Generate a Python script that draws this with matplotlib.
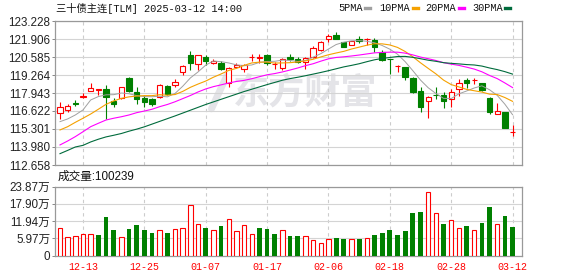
import numpy as np
import matplotlib.pyplot as plt
from matplotlib.patches import Rectangle
from matplotlib.lines import Line2D

plt.rcParams['font.family'] = ['Liberation Sans', 'Noto Sans CJK SC']

# trading days shown (12-10 .. 03-12)
dates = ['12-10', '12-11', '12-12', '12-13', '12-16', '12-17', '12-18', '12-19', '12-20', '12-23',
         '12-24', '12-25', '12-26', '12-27', '12-30', '12-31', '01-02', '01-03', '01-06', '01-07',
         '01-08', '01-09', '01-10', '01-13', '01-14', '01-15', '01-16', '01-17', '01-20', '01-21',
         '01-22', '01-23', '01-24', '01-27', '02-05', '02-06', '02-07', '02-10', '02-11', '02-12',
         '02-13', '02-14', '02-17', '02-18', '02-19', '02-20', '02-21', '02-24', '02-25', '02-26',
         '02-27', '02-28', '03-03', '03-04', '03-05', '03-06', '03-07', '03-10', '03-11', '03-12']

opens = [116.45, 116.70, 117.23, 117.65, 118.07, 118.19, 118.24, 117.36, 117.55, 119.02,
         117.99, 117.55, 117.50, 117.67, 118.46, 118.53, 119.46, 120.73, 120.05, 120.61,
         120.12, 120.17, 118.65, 119.83, 119.71, 120.55, 120.49, 120.73, 120.06, 119.80,
         120.59, 120.42, 120.24, 120.61, 121.10, 121.88, 122.20, 121.66, 121.47, 121.88,
         121.89, 121.83, 120.97, 120.46, 119.91, 119.87, 119.07, 118.09, 117.36, 117.83,
         117.80, 117.50, 118.26, 118.90, 118.89, 118.65, 117.60, 116.38, 116.57, 115.05]
highs = [117.26, 117.16, 117.43, 117.92, 118.66, 118.21, 118.53, 117.60, 118.38, 119.14,
         118.41, 117.80, 117.55, 118.58, 118.53, 118.94, 120.00, 121.03, 120.73, 120.73,
         120.46, 120.29, 119.83, 120.17, 120.05, 120.78, 120.83, 120.78, 120.24, 120.54,
         120.78, 120.56, 120.56, 121.36, 121.76, 122.26, 122.43, 121.70, 121.78, 122.13,
         121.96, 121.96, 121.12, 120.46, 120.00, 119.87, 119.14, 118.41, 117.75, 118.41,
         118.04, 118.26, 118.97, 119.04, 119.07, 118.65, 117.65, 117.19, 116.57, 115.60]
lows = [116.03, 116.53, 117.02, 117.55, 118.07, 117.80, 116.03, 116.94, 117.53, 118.04,
        117.11, 116.94, 117.01, 117.55, 117.80, 118.36, 119.26, 119.63, 119.63, 120.00,
        120.05, 119.66, 118.41, 119.76, 119.46, 120.31, 120.17, 120.00, 119.71, 119.66,
        120.31, 120.12, 119.71, 120.54, 121.03, 121.67, 121.88, 121.30, 121.45, 121.60,
        121.47, 120.98, 120.32, 119.32, 119.51, 118.90, 117.97, 116.57, 116.13, 117.50,
        116.87, 116.92, 117.70, 118.31, 118.60, 118.09, 116.38, 116.38, 115.40, 114.81]
closes = [116.94, 117.01, 117.11, 117.75, 118.33, 118.21, 117.65, 117.16, 118.36, 118.09,
          117.50, 117.30, 117.11, 118.53, 117.85, 118.77, 119.95, 120.17, 120.73, 120.31,
          120.29, 119.68, 119.76, 120.00, 120.00, 120.56, 120.61, 120.12, 120.07, 120.44,
          120.42, 120.24, 120.49, 121.27, 121.71, 122.13, 121.91, 121.35, 121.76, 121.78,
          121.90, 121.34, 120.37, 120.42, 119.92, 119.14, 118.04, 116.94, 117.63, 117.78,
          117.36, 118.00, 118.65, 118.65, 118.90, 118.16, 116.53, 116.62, 115.40, 115.06]

ma5 = [115.84, 116.04, 116.33, 116.70, 117.43, 117.68, 117.81, 117.82, 117.94, 117.89,
       117.75, 117.68, 117.67, 117.71, 117.66, 117.91, 118.44, 119.05, 119.49, 119.99,
       120.29, 120.24, 120.15, 120.01, 119.95, 120.00, 120.19, 120.26, 120.27, 120.36,
       120.33, 120.26, 120.33, 120.57, 120.83, 121.17, 121.50, 121.67, 121.77, 121.79,
       121.74, 121.63, 121.43, 121.16, 120.79, 120.24, 119.58, 118.89, 118.33, 117.91,
       117.55, 117.54, 117.88, 118.09, 118.31, 118.47, 118.18, 117.77, 117.12, 116.35]
ma10 = [115.23, 115.47, 115.79, 116.09, 116.40, 116.75, 117.11, 117.36, 117.55, 117.66,
        117.72, 117.75, 117.75, 117.82, 117.78, 117.83, 118.06, 118.36, 118.60, 118.82,
        119.10, 119.34, 119.60, 119.75, 119.97, 120.15, 120.21, 120.21, 120.14, 120.15,
        120.17, 120.22, 120.30, 120.42, 120.59, 120.75, 120.88, 121.00, 121.17, 121.31,
        121.45, 121.56, 121.55, 121.47, 121.29, 120.99, 120.60, 120.16, 119.75, 119.35,
        118.89, 118.56, 118.39, 118.21, 118.11, 118.01, 117.86, 117.83, 117.61, 117.33]
ma20 = [114.13, 114.42, 114.74, 115.10, 115.47, 115.72, 115.96, 116.09, 116.20, 116.33,
        116.50, 116.62, 116.75, 116.94, 117.10, 117.30, 117.53, 117.76, 118.02, 118.24,
        118.41, 118.54, 118.68, 118.79, 118.87, 118.99, 119.14, 119.28, 119.37, 119.49,
        119.63, 119.78, 119.95, 120.09, 120.28, 120.45, 120.55, 120.60, 120.66, 120.73,
        120.81, 120.89, 120.92, 120.94, 120.94, 120.87, 120.74, 120.58, 120.46, 120.33,
        120.17, 120.06, 119.97, 119.84, 119.70, 119.50, 119.23, 119.00, 118.68, 118.34]
ma30 = [113.49, 113.73, 113.98, 114.10, 114.35, 114.55, 114.72, 114.84, 114.97, 115.14,
        115.29, 115.46, 115.66, 115.86, 116.06, 116.26, 116.47, 116.68, 116.89, 117.10,
        117.29, 117.48, 117.67, 117.86, 118.05, 118.22, 118.39, 118.56, 118.72, 118.88,
        119.00, 119.10, 119.21, 119.33, 119.45, 119.58, 119.72, 119.86, 119.97, 120.09,
        120.24, 120.38, 120.48, 120.55, 120.62, 120.63, 120.56, 120.46, 120.35, 120.27,
        120.17, 120.12, 120.08, 120.03, 120.00, 119.92, 119.78, 119.66, 119.51, 119.33]

# volume in 万 (10k lots), 1 = red bar, 0 = green bar
vol = [9.64, 6.57, 6.91, 7.35, 7.35, 7.01, 13.17, 8.72, 6.57, 9.06,
       10.43, 8.72, 7.70, 8.96, 7.70, 9.30, 9.64, 17.61, 10.77, 9.41,
       8.96, 10.09, 12.72, 8.62, 10.67, 7.59, 9.64, 9.06, 7.35, 8.96,
       6.67, 6.67, 6.67, 5.30, 4.17, 5.64, 5.99, 5.64, 5.64, 5.64,
       5.99, 7.01, 7.80, 8.72, 7.01, 8.38, 14.64, 15.22, 22.06, 14.77,
       10.77, 12.14, 9.64, 10.09, 8.96, 11.22, 16.93, 11.01, 13.51, 10.02]
vol_up = [1, 1, 1, 1, 1, 0, 0, 0, 1, 0, 0, 0, 0, 1, 0, 1, 1, 1, 1, 0,
          1, 0, 1, 1, 1, 1, 0, 0, 0, 1, 0, 0, 1, 1, 1, 1, 0, 0, 1, 0,
          1, 0, 0, 0, 0, 0, 0, 0, 1, 1, 0, 1, 1, 0, 1, 0, 0, 1, 0, 0]
last_vol = 100239

price_ticks = [112.658, 113.980, 115.301, 116.622, 117.943, 119.264, 120.585, 121.906, 123.228]
vol_ticks = [0, 5.97, 11.94, 17.90, 23.87]
vol_tick_labels = ['0', '5.97万', '11.94万', '17.90万', '23.87万']
date_labels = ['12-13', '12-25', '01-07', '01-17', '02-06', '02-18', '02-28', '03-12']
ma_names = ['5PMA', '10PMA', '20PMA', '30PMA']

RED = '#ff0000'
GREEN = '#008000'
ma_colors = ['#a0a0a0', '#f5a100', '#ff00ff', '#006b3c']
ma_widths = [0.7, 0.8, 0.8, 0.8]
mono = ['Liberation Mono', 'Noto Sans CJK SC']

W, H = 578, 276
fig = plt.figure(figsize=(W / 100, H / 100), dpi=100)
ax = fig.add_axes([55 / W, 1 - 165 / H, 467 / W, 144 / H])
axv = fig.add_axes([55 / W, 1 - 255.5 / H, 467 / W, 69 / H])

x = np.arange(len(dates))
tick_idx = [dates.index(d) for d in date_labels]

# candles
bw = 0.7
for i in x:
    o, h, l, c = opens[i], highs[i], lows[i], closes[i]
    if c >= o:
        ax.vlines(i, max(o, c), h, color=RED, lw=0.8, zorder=3)
        ax.vlines(i, l, min(o, c), color=RED, lw=0.8, zorder=3)
        ax.add_patch(Rectangle((i - bw / 2, o), bw, c - o, facecolor='white',
                               edgecolor=RED, lw=0.8, zorder=3))
    else:
        ax.vlines(i, l, h, color=GREEN, lw=0.8, zorder=3)
        ax.add_patch(Rectangle((i - bw / 2, c), bw, o - c, facecolor=GREEN,
                               edgecolor=GREEN, lw=0.8, zorder=3))

for ma, col, lw in zip([ma5, ma10, ma20, ma30], ma_colors, ma_widths):
    ax.plot(x, ma, color=col, lw=lw, zorder=4)

# watermark (logo stroke + name)
ax.add_line(Line2D([0.335, 0.368], [0.39, 0.62], transform=ax.transAxes, color='#e4e4e8',
                   lw=5, solid_capstyle='round', zorder=0))
ax.text(0.535, 0.50, '东方财富', transform=ax.transAxes, fontsize=26, color='#e4e4e8',
        fontweight='bold', ha='center', va='center', family='Noto Sans CJK SC', zorder=0)

ax.set_xlim(-0.65, 60.23)
ax.set_ylim(price_ticks[0], price_ticks[-1])
ax.set_yticks(price_ticks)
ax.set_yticklabels(['%.3f' % t for t in price_ticks])
ax.set_xticks(tick_idx)
ax.tick_params(axis='x', length=0, labelbottom=False)
ax.tick_params(axis='y', length=2.2, width=0.7, color='#888888', pad=1.2,
               labelsize=8.4, labelcolor='#222222')
ax.grid(axis='y', color='#d4d4d4', lw=0.8)
ax.grid(axis='x', color='#cccccc', lw=0.8, linestyle=(0, (3, 3)))
ax.set_axisbelow(True)

# volume
for i in x:
    if vol_up[i]:
        axv.add_patch(Rectangle((i - 0.29, 0), 0.58, vol[i], facecolor='white',
                                edgecolor=RED, lw=0.8, zorder=3))
    else:
        axv.bar(i, vol[i], width=0.62, color=GREEN, zorder=3)

axv.set_xlim(-0.65, 60.23)
axv.set_ylim(0, vol_ticks[-1])
axv.set_yticks(vol_ticks)
axv.set_yticklabels(vol_tick_labels)
axv.set_xticks(tick_idx)
axv.set_xticklabels(date_labels, family=mono, fontsize=7.2, color=RED)
axv.tick_params(axis='x', length=0, pad=5)
axv.tick_params(axis='y', length=2.2, width=0.7, color='#888888', pad=1.2,
                labelsize=8.4, labelcolor='#222222')
axv.grid(axis='y', color='#d4d4d4', lw=0.8)
axv.grid(axis='x', color='#cccccc', lw=0.8, linestyle=(0, (3, 3)))
axv.set_axisbelow(True)

for a in (ax, axv):
    for s in a.spines.values():
        s.set_color('#999999')
        s.set_linewidth(0.9)

# header texts
ty = 1 - 8.3 / H
fig.text(56 / W, ty, '三十债主连[TLM] 2025-03-12 14:00', family=mono, fontsize=7.4,
         va='center', ha='left', color='#111111')
leg_x = [338, 379, 425, 472]
sw_x = [365, 413, 459, 505]
for name, col, lx, sx in zip(ma_names, ma_colors, leg_x, sw_x):
    fig.text(lx / W, ty, name, family=mono, fontsize=7.4, va='center', ha='left', color='#111111')
    fig.add_artist(Line2D([sx / W, (sx + 5) / W], [ty, ty], color=col, lw=2.4,
                          transform=fig.transFigure))

fig.text(58 / W, 1 - 177 / H, '成交量:%d' % last_vol, fontsize=8.4, va='center', ha='left',
         color='#111111')

plt.savefig('out.png', dpi=100)
